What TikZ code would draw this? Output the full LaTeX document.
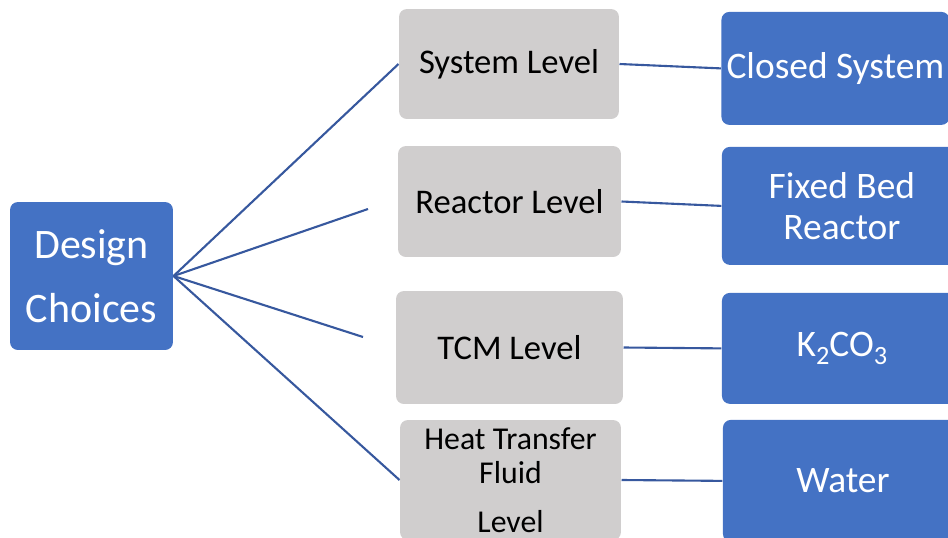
\documentclass[tikz,border=0pt]{standalone}
\usepackage{fontspec}
\setmainfont{Carlito}
\usepackage{tikz}
\usetikzlibrary{positioning}
\definecolor{choiceblue}{RGB}{68,114,196}
\definecolor{levelgray}{RGB}{208,206,206}
\definecolor{linkblue}{RGB}{55,88,158}
\newcommand{\lowsub}[1]{\raisebox{-0.22em}{\fontsize{15}{15}\selectfont #1}}

\begin{document}
\begin{tikzpicture}[
            x = 0.02cm, y = -0.02cm, % one unit per pixel
            node distance = 6.65cm, % level box to choice box
            semithick % line style
        ]

        \tikzstyle{every node}=[
            rounded corners = 4.5pt,
            align = center,
            inner sep = 2pt
        ]
        \tikzstyle{level}=[
            fill = levelgray,
            text = black,
            font = \fontsize{19.7}{23}\selectfont
        ]
        \tikzstyle{choice}=[
            fill = choiceblue,
            text = white,
            minimum width = 4.8cm,
            font = \fontsize{21.3}{23.2}\selectfont
        ]
        \tikzstyle{link}=[
            draw = linkblue,
            line width = 1.2pt
        ]

        \useasboundingbox (0,0) rectangle (948,538);
        \clip (0,0) rectangle (948,538);

	% root
        \node[choice, minimum width = 3.26cm, minimum height = 2.96cm,
              font = \fontsize{23.9}{36.3}\selectfont] (DC) at (91.5,276) {Design\\Choices};

	% levels
        \node[level, minimum width = 4.4cm, minimum height = 2.2cm] (SL) at (509,64) {System Level};
        \node[level, minimum width = 4.46cm, minimum height = 2.22cm] (RL) at (509.5,201.5) {Reactor Level};
        \node[level, minimum width = 4.54cm, minimum height = 2.26cm] (TL) at (509.5,347.5) {TCM Level};
        \node[level, minimum width = 4.42cm, minimum height = 2.4cm,
              font = \fontsize{18.1}{19.3}\selectfont] (HL) at (510.5,480) {Heat Transfer\\Fluid\\[8.5pt]Level};

        % choices
        \node[choice, minimum height = 2.26cm, minimum width = 4.56cm] (CS) [right of = SL, xshift = -0.12cm, yshift = -2.5pt] {Closed System};
        \node[choice, minimum height = 2.36cm] (FB) [right of = RL, yshift = -2.5pt] {Fixed Bed\\Reactor};
        \node[choice, minimum height = 2.22cm] (KC) [right of = TL, yshift = -0.5pt] {K\lowsub{2}CO\lowsub{3}};
        \node[choice, minimum height = 2.44cm] (WA) [right of = HL, yshift = -0.5pt] {Water};

        % loose ends
        \coordinate (RE) at (368,209);
        \coordinate (TE) at (363,337);

        \path[link] (DC.east) edge (SL.west);
        \path[link] (DC.east) edge (RE);
        \path[link] (DC.east) edge (TE);
        \path[link] (DC.east) edge (HL.west);

        \path[link] (SL.east) edge (CS.west);
        \path[link] (RL.east) edge (FB.west);
        \path[link] (TL.east) edge (KC.west);
        \path[link] (HL.east) edge (WA.west);

  \end{tikzpicture}
\end{document}
